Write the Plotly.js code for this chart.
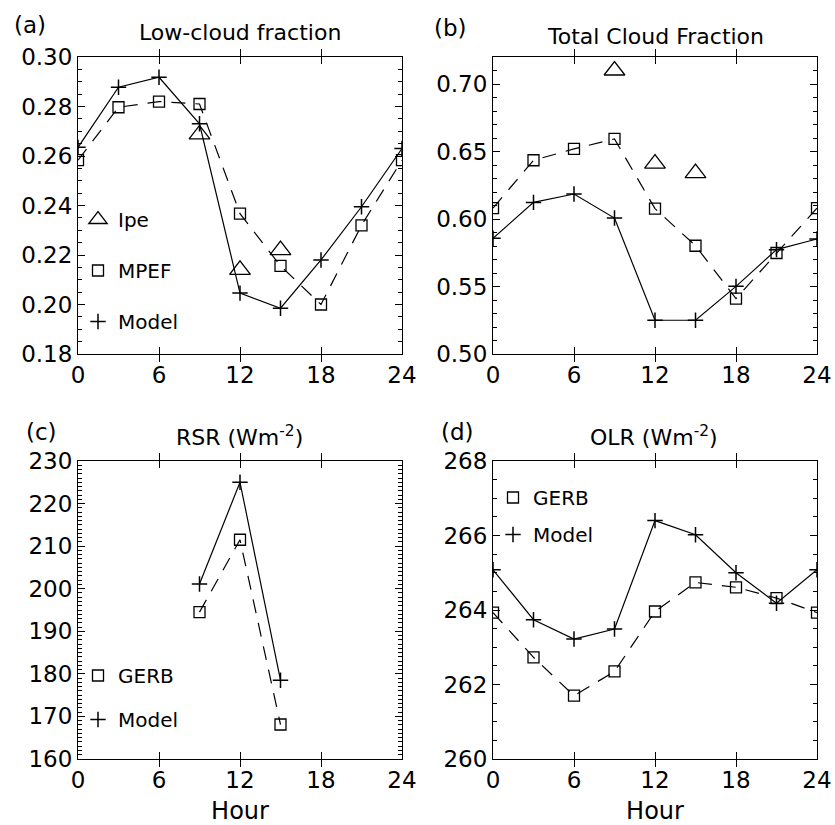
<!DOCTYPE html>
<html>
<head>
<meta charset="utf-8">
<script src="https://cdn.plot.ly/plotly-3.0.1.min.js"></script>
<style>html,body{margin:0;padding:0;background:#fff;}#chart{width:835px;height:825px;}</style>
</head>
<body>
<div id="chart"></div>
<script>
// ---- data ----
const hours = [0, 3, 6, 9, 12, 15, 18, 21, 24];
const ipeHours = [9, 12, 15];
const rsrHours = [9, 12, 15];

// (a) Low-cloud fraction
const lowModel = [0.2635, 0.2878, 0.2918, 0.2730, 0.2046, 0.1985, 0.2180, 0.2395, 0.2630];
const lowMPEF  = [0.2583, 0.2797, 0.2820, 0.2810, 0.2367, 0.2156, 0.2000, 0.2320, 0.2583];
const lowIpe   = [0.2687, 0.2140, 0.2220];

// (b) Total cloud fraction
const totModel = [0.5857, 0.6123, 0.6185, 0.6007, 0.5250, 0.5250, 0.5501, 0.5773, 0.5852];
const totMPEF  = [0.6081, 0.6435, 0.6519, 0.6593, 0.6077, 0.5802, 0.5410, 0.5748, 0.6081];
const totIpe   = [0.7100, 0.6410, 0.6340];

// (c) RSR (W m-2)
const rsrModel = [201.1, 225.0, 178.5];
const rsrGERB  = [194.5, 211.5, 168.1];

// (d) OLR (W m-2)
const olrModel = [265.08, 263.74, 263.22, 263.49, 266.40, 266.02, 265.00, 264.18, 265.08];
const olrGERB  = [263.93, 262.73, 261.70, 262.35, 263.96, 264.74, 264.61, 264.32, 263.93];

// ---- styling ----
const FONT = 'DejaVu Sans, Arial, sans-serif';
const BLACK = '#000';
const solid = {color: BLACK, width: 1.2};
const dashed = {color: BLACK, width: 1.2, dash: '14px,10px'};
const sqMarker = {symbol: 'square-open', size: 11, color: BLACK, line: {color: BLACK, width: 1.3}};
const plusMarker = {symbol: 'cross-thin-open', size: 11, color: BLACK, line: {color: BLACK, width: 1.5}};
const triMarker = {symbol: 'triangle-up-open', size: 18, color: BLACK, line: {color: BLACK, width: 1.3}};

function lineTrace(x, y, xa, ya, line) {
  return {x, y, xaxis: xa, yaxis: ya, mode: 'lines', line, showlegend: false, hoverinfo: 'skip'};
}
function markTrace(x, y, xa, ya, marker, name, legend, group) {
  const t = {x, y, xaxis: xa, yaxis: ya, mode: 'markers', marker, name, legendgroup: group, showlegend: !!legend};
  if (legend) t.legend = legend;
  return t;
}
// empty trace so that the minor-tick overlay axes are drawn
function axisHolder(xa, ya) {
  return {x: [null], y: [null], xaxis: xa, yaxis: ya, mode: 'markers', showlegend: false, hoverinfo: 'skip'};
}

const traces = [
  // (a)
  lineTrace(hours, lowMPEF, 'x', 'y', dashed),
  lineTrace(hours, lowModel, 'x', 'y', solid),
  markTrace(ipeHours, lowIpe, 'x', 'y', triMarker, 'Ipe', 'legend', 'a1'),
  markTrace(hours, lowMPEF, 'x', 'y', sqMarker, 'MPEF', 'legend', 'a2'),
  markTrace(hours, lowModel, 'x', 'y', plusMarker, 'Model', 'legend', 'a3'),
  // (b)
  lineTrace(hours, totMPEF, 'x2', 'y2', dashed),
  lineTrace(hours, totModel, 'x2', 'y2', solid),
  markTrace(ipeHours, totIpe, 'x2', 'y2', triMarker, 'Ipe', null, 'b1'),
  markTrace(hours, totMPEF, 'x2', 'y2', sqMarker, 'MPEF', null, 'b2'),
  markTrace(hours, totModel, 'x2', 'y2', plusMarker, 'Model', null, 'b3'),
  // (c)
  lineTrace(rsrHours, rsrGERB, 'x3', 'y3', dashed),
  lineTrace(rsrHours, rsrModel, 'x3', 'y3', solid),
  markTrace(rsrHours, rsrGERB, 'x3', 'y3', sqMarker, 'GERB', 'legend2', 'c1'),
  markTrace(rsrHours, rsrModel, 'x3', 'y3', plusMarker, 'Model', 'legend2', 'c2'),
  // (d)
  lineTrace(hours, olrGERB, 'x4', 'y4', dashed),
  lineTrace(hours, olrModel, 'x4', 'y4', solid),
  markTrace(hours, olrGERB, 'x4', 'y4', sqMarker, 'GERB', 'legend3', 'd1'),
  markTrace(hours, olrModel, 'x4', 'y4', plusMarker, 'Model', 'legend3', 'd2'),
  // minor tick overlays
  axisHolder('x', 'y5'), axisHolder('x2', 'y6'), axisHolder('x3', 'y7'), axisHolder('x4', 'y8'),
];

const W = 835, H = 825;
const px = v => v / W;
const py = v => 1 - v / H;

function xAxis(domain, anchor, withTitle) {
  const ax = {
    domain, anchor, range: [0, 24], dtick: 6, tick0: 0,
    ticks: 'inside', ticklen: 7, tickwidth: 1, tickcolor: BLACK,
    showline: true, linecolor: BLACK, linewidth: 1, mirror: 'allticks',
    showgrid: false, zeroline: false,
    tickfont: {family: FONT, size: 23, color: BLACK},
    fixedrange: true
  };
  if (withTitle) ax.title = {text: 'Hour', font: {family: FONT, size: 24, color: BLACK}, standoff: 14};
  return ax;
}
function yAxis(domain, anchor, range, dtick, fmt) {
  return {
    domain, anchor, range, dtick, tick0: range[0], tickmode: 'linear',
    ticks: 'inside', ticklen: 7, tickwidth: 1, tickcolor: BLACK,
    showline: true, linecolor: BLACK, linewidth: 1, mirror: 'allticks',
    showgrid: false, zeroline: false, tickformat: fmt,
    tickfont: {family: FONT, size: 23, color: BLACK},
    fixedrange: true
  };
}
function minorAxis(over, anchor, range, dtick) {
  return {
    overlaying: over, anchor, side: 'left', range, dtick, tick0: range[0], tickmode: 'linear',
    ticks: 'inside', ticklen: 4, tickwidth: 1, tickcolor: BLACK,
    showline: true, linecolor: BLACK, linewidth: 1, mirror: 'allticks',
    showgrid: false, zeroline: false, showticklabels: false, fixedrange: true
  };
}

const colL = [px(78), px(402)];
const colR = [px(493), px(817)];
const rowT = [py(354), py(57)];
const rowB = [py(759), py(461)];

const rangeA = [0.18, 0.30], rangeB = [0.50, 0.72], rangeC = [160, 230], rangeD = [260, 268];

function ann(text, xPx, yPx, size, anchor) {
  return {text, x: px(xPx), y: py(yPx), xref: 'paper', yref: 'paper', showarrow: false,
    xanchor: anchor || 'center', yanchor: 'middle', font: {family: FONT, size, color: BLACK}};
}
function legendCfg(xPx, yPx, gap) {
  return {x: px(xPx), y: py(yPx), xref: 'paper', yref: 'paper', xanchor: 'left', yanchor: 'top',
    bgcolor: 'rgba(0,0,0,0)', borderwidth: 0, traceorder: 'grouped', tracegroupgap: gap,
    font: {family: FONT, size: 20, color: BLACK}, itemclick: false, itemdoubleclick: false};
}

const layout = {
  width: W, height: H,
  margin: {l: 0, r: 0, t: 0, b: 0},
  paper_bgcolor: '#fff', plot_bgcolor: '#fff',
  font: {family: FONT, color: BLACK},
  xaxis: xAxis(colL, 'y', false),
  yaxis: yAxis(rowT, 'x', rangeA, 0.02, '.2f'),
  xaxis2: xAxis(colR, 'y2', false),
  yaxis2: yAxis(rowT, 'x2', rangeB, 0.05, '.2f'),
  xaxis3: xAxis(colL, 'y3', true),
  yaxis3: yAxis(rowB, 'x3', rangeC, 10, 'd'),
  xaxis4: xAxis(colR, 'y4', true),
  yaxis4: yAxis(rowB, 'x4', rangeD, 2, 'd'),
  yaxis5: minorAxis('y', 'x', rangeA, 0.005),
  yaxis6: minorAxis('y2', 'x2', rangeB, 0.01),
  yaxis7: minorAxis('y3', 'x3', rangeC, 1),
  yaxis8: minorAxis('y4', 'x4', rangeD, 0.5),
  legend: legendCfg(78, 200, 22),
  legend2: legendCfg(78, 656, 15),
  legend3: legendCfg(493, 478, 8),
  annotations: [
    ann('(a)', 12, 25, 23, 'left'),
    ann('Low-cloud fraction', 240, 32, 22),
    ann('(b)', 432, 28, 23, 'left'),
    ann('Total Cloud Fraction', 655, 36, 22),
    ann('(c)', 24, 432, 23, 'left'),
    ann('RSR (Wm<sup>-2</sup>)', 239, 436, 22),
    ann('(d)', 439, 432, 23, 'left'),
    ann('OLR (Wm<sup>-2</sup>)', 654, 436, 22),
  ],
  showlegend: true
};

Plotly.newPlot('chart', traces, layout, {staticPlot: true, displayModeBar: false});
</script>
</body>
</html>
